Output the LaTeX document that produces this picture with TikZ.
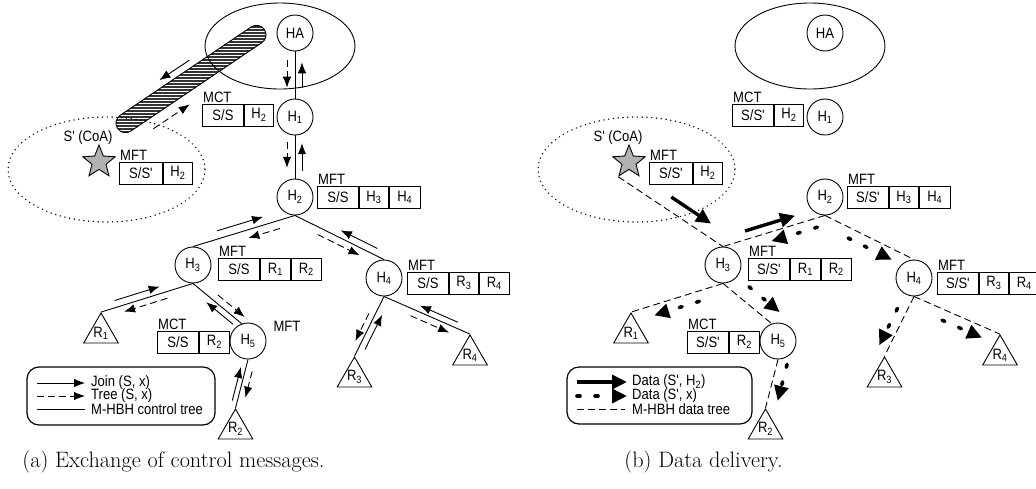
\documentclass[tikz,border=0pt]{standalone}
\usepackage{fontspec}
\newfontfamily\lab[FakeStretch=0.87]{Liberation Sans}
\usetikzlibrary{arrows.meta,calc,shapes.geometric}

\tikzset{
  base/.style={line width=0.9pt},
  txt/.style={font=\lab\fontsize{15}{17}\selectfont},
  circ/.style={circle, draw, base, minimum size=36pt, inner sep=0pt, txt},
  cell/.style={draw, base, minimum height=22pt, inner sep=0pt, anchor=west, txt},
  lbl/.style={inner sep=1pt, txt},
  tri/.style={regular polygon, regular polygon sides=3, draw, base, minimum size=40pt, inner sep=0pt},
  ctrl/.style={base},
  joinarr/.style={base, -{Latex[length=11pt,width=8.5pt]}},
  treearr/.style={joinarr, dash pattern=on 7pt off 4pt},
  dtree/.style={base, dash pattern=on 7pt off 4pt},
  thickarr/.style={line width=3.4pt, -{Triangle[length=15pt,width=14pt]}},
  dotarr/.style={line width=3.6pt, line cap=round, dash pattern=on 3pt off 15pt, -{Triangle[length=15pt,width=14pt]}},
  legbox/.style={draw, line width=1.2pt, rounded corners=12pt},
  captxt/.style={font=\fontsize{22.3}{25}\selectfont},
  capsule/.style={shift={(191,79)}, rotate=34},
}

\newcommand\msg[6]{\draw[#1] ($(#2)!#4!(#3)!#6!90:(#3)$) -- ($(#2)!#5!(#3)!#6!-90:(#2)$);}

\newcommand\mypanel[2]{%
  \draw[base] (280,46) ellipse [x radius=75, y radius=43];
  \draw[base, line cap=round, dash pattern=on 0.2pt off 4.6pt, line width=1.4pt] (106.5,169.5) ellipse [x radius=98.5, y radius=52.5];
  \node[circ] (#1HA) at (295,33) {HA};
  \node[circ] (#1H1) at (295,117) {H\textsubscript{1}};
  \node[circ] (#1H2) at (295,197) {H\textsubscript{2}};
  \node[circ] (#1H3) at (193,265) {H\textsubscript{3}};
  \node[circ] (#1H4) at (384,278) {H\textsubscript{4}};
  \node[circ] (#1H5) at (248,341) {H\textsubscript{5}};
  \node[tri, label={[lbl]center:R\textsubscript{1}}] (#1R1) at (101,333) {};
  \node[tri, label={[lbl]center:R\textsubscript{2}}] (#1R2) at (235.5,429) {};
  \node[tri, label={[lbl]center:R\textsubscript{3}}] (#1R3) at (354.5,377) {};
  \node[tri, label={[lbl]center:R\textsubscript{4}}] (#1R4) at (470,355) {};
  \node[star, star points=5, star point ratio=2.3, draw, base, fill=gray!60, minimum size=34pt, inner sep=0pt] (#1S) at (99,162) {};
  \node[lbl] (#1coa) at (88,138) {S' (CoA)};
  % MCT at H1
  \node[cell, minimum width=41pt] (#1t1a) at (202,115) {#2};
  \node[cell, minimum width=29pt] (#1t1b) at (#1t1a.east) {H\textsubscript{2}};
  \node[lbl, anchor=south west] (#1t1l) at (#1t1a.north west) {MCT};
  % MFT at S'
  \node[cell, minimum width=43pt] (#1t2a) at (119,173) {S/S'};
  \node[cell, minimum width=29pt] (#1t2b) at (#1t2a.east) {H\textsubscript{2}};
  \node[lbl, anchor=south west] (#1t2l) at (#1t2a.north west) {MFT};
  % MFT at H2
  \node[cell, minimum width=41pt] (#1t3a) at (317,197.5) {#2};
  \node[cell, minimum width=29pt] (#1t3b) at (#1t3a.east) {H\textsubscript{3}};
  \node[cell, minimum width=31pt] (#1t3c) at (#1t3b.east) {H\textsubscript{4}};
  \node[lbl, anchor=south west] (#1t3l) at (#1t3a.north west) {MFT};
  % MFT at H3
  \node[cell, minimum width=41pt] (#1t4a) at (218,269.5) {#2};
  \node[cell, minimum width=30pt] (#1t4b) at (#1t4a.east) {R\textsubscript{1}};
  \node[cell, minimum width=30pt] (#1t4c) at (#1t4b.east) {R\textsubscript{2}};
  \node[lbl, anchor=south west] (#1t4l) at (#1t4a.north west) {MFT};
  % MFT at H4
  \node[cell, minimum width=41pt] (#1t5a) at (407,283) {#2};
  \node[cell, minimum width=29pt] (#1t5b) at (#1t5a.east) {R\textsubscript{3}};
  \node[cell, minimum width=30pt] (#1t5c) at (#1t5b.east) {R\textsubscript{4}};
  \node[lbl, anchor=south west] (#1t5l) at (#1t5a.north west) {MFT};
  % MCT at H5
  \node[cell, minimum width=41pt] (#1t6a) at (157,342) {#2};
  \node[cell, minimum width=30pt] (#1t6b) at (#1t6a.east) {R\textsubscript{2}};
  \node[lbl, anchor=south west] (#1t6l) at (#1t6a.north west) {MCT};
}

\begin{document}
\begin{tikzpicture}[x=1pt, y=-1pt]
\useasboundingbox (0,0) rectangle (1036,488);
\fill[white] (0,0) rectangle (1036,488);

% ---------------- panel (a): hatched capsule
\begin{scope}[capsule]
  \clip (-79,-9.5) -- (79,-9.5) arc (-90:90:9.5) -- (-79,9.5) arc (90:270:9.5) -- cycle;
  \fill[black!80] (-100,-20) rectangle (100,20);
  \begin{scope}[rotate=-34]
    \foreach \yy in {-60,-57,...,62} \draw[white, line width=0.9pt] (-110,\yy) -- (110,\yy);
  \end{scope}
\end{scope}
\draw[base, capsule] (-79,-9.5) -- (79,-9.5) arc (-90:90:9.5) -- (-79,9.5) arc (90:270:9.5) -- cycle;
\coordinate (capA) at (126,123);
\coordinate (capB) at (256,36);

\mypanel{a}{S/S}
\node[lbl] (aH5l) at (287,326) {MFT};

\draw[ctrl] (aHA) -- (aH1);
\draw[ctrl] (aH1) -- (aH2);
\draw[ctrl] (aH2.south) -- (aH3.north);
\draw[ctrl] (aH2.south) -- (aH4.north);
\draw[ctrl] (aH3.south) -- (aR1.corner 1);
\draw[ctrl] (aH3.south) -- (aH5.110);
\draw[ctrl] (aH5.south) -- (aR2.corner 1);
\draw[ctrl] (aH4.south) -- (aR3.corner 1);
\draw[ctrl] (aH4.south) -- (aR4.corner 1);

\msg{treearr}{aHA.south}{aH1.north}{0.19}{0.77}{-8pt}
\msg{joinarr}{aHA.south}{aH1.north}{0.77}{0.23}{7pt}
\msg{treearr}{aH1.south}{aH2.north}{0.16}{0.75}{-8pt}
\msg{joinarr}{aH1.south}{aH2.north}{0.82}{0.18}{7pt}
\msg{joinarr}{aH2.south}{aH3.north}{0.74}{0.29}{-8pt}
\msg{treearr}{aH2.south}{aH3.north}{0.17}{0.48}{8pt}
\msg{joinarr}{aH2.south}{aH4.north}{0.89}{0.48}{7pt}
\msg{treearr}{aH2.south}{aH4.north}{0.29}{0.76}{-7pt}
\msg{joinarr}{aH3.south}{aR1.corner 1}{0.83}{0.34}{-7pt}
\msg{treearr}{aH3.south}{aR1.corner 1}{0.30}{0.77}{6.5pt}
\msg{joinarr}{aH3.south}{aH5.110}{0.9}{0.35}{-6pt}
\msg{treearr}{aH3.south}{aH5.110}{0.42}{0.97}{7pt}
\msg{joinarr}{aH5.south}{aR2.corner 1}{0.87}{0.18}{-5pt}
\msg{treearr}{aH5.south}{aR2.corner 1}{0.21}{0.75}{7pt}
\msg{treearr}{aH4.south}{aR3.corner 1}{0.33}{0.79}{-6pt}
\msg{joinarr}{aH4.south}{aR3.corner 1}{0.84}{0.26}{6.5pt}
\msg{joinarr}{aH4.south}{aR4.corner 1}{0.83}{0.39}{6pt}
\msg{treearr}{aH4.south}{aR4.corner 1}{0.34}{0.79}{-7pt}
\msg{joinarr}{capA}{capB}{0.56}{0.33}{17pt}
\msg{treearr}{capA}{capB}{0.125}{0.405}{-20pt}

% legend (a)
\node[legbox, minimum width=188pt, minimum height=58pt] (aleg) at (121,396) {};
\coordinate (al1s) at (37,383); \coordinate (al1e) at (85,383);
\coordinate (al2s) at (37,396); \coordinate (al2e) at (85,396);
\coordinate (al3s) at (37,409); \coordinate (al3e) at (85,409);
\draw[joinarr] (al1s) -- (al1e);
\draw[treearr] (al2s) -- (al2e);
\draw[ctrl] (al3s) -- (al3e);
\node[lbl, anchor=west] (al1t) at (90,383) {Join (S, x)};
\node[lbl, anchor=west] (al2t) at (90,396) {Tree (S, x)};
\node[lbl, anchor=west] (al3t) at (90,409) {M-HBH control tree};

% ---------------- panel (b)
\begin{scope}[xshift=530pt]
\mypanel{b}{S/S'}
\end{scope}

\draw[dtree] (bS.outer point 3) -- (bH3.north);
\draw[dtree] (bH2.south) -- (bH3.north);
\draw[dtree] (bH2.south) -- (bH4.north);
\draw[dtree] (bH3.south) -- (bR1.corner 1);
\draw[dtree] (bH3.south) -- (bH5.110);
\draw[dtree] (bH5.south) -- (bR2.corner 1);
\draw[dtree] (bH4.south) -- (bR3.corner 1);
\draw[dtree] (bH4.south) -- (bR4.corner 1);

\msg{thickarr}{bS.outer point 3}{bH3.north}{0.44}{0.82}{12.5pt}
\msg{thickarr}{bH3.north}{bH2.south}{0.24}{0.73}{8.5pt}
\msg{dotarr}{bH2.south}{bH3.north}{0.1}{0.55}{9pt}
\msg{dotarr}{bH2.south}{bH4.north}{0.31}{0.8}{-10pt}
\msg{dotarr}{bH3.south}{bR1.corner 1}{0.29}{0.78}{10pt}
\msg{dotarr}{bH3.south}{bH5.110}{0.35}{0.98}{14pt}
\msg{dotarr}{bH5.south}{bR2.corner 1}{0.05}{0.8}{10pt}
\msg{dotarr}{bH4.south}{bR3.corner 1}{0.27}{0.89}{-9.5pt}
\msg{dotarr}{bH4.south}{bR4.corner 1}{0.375}{0.84}{-10.5pt}

% legend (b)
\node[legbox, minimum width=185pt, minimum height=57pt] (bleg) at (659.5,395.5) {};
\coordinate (bl1s) at (577,382); \coordinate (bl1e) at (627,382);
\coordinate (bl2s) at (577,396); \coordinate (bl2e) at (627,396);
\coordinate (bl3s) at (577,409); \coordinate (bl3e) at (625,409);
\draw[thickarr] (bl1s) -- (bl1e);
\draw[dotarr] (bl2s) -- (bl2e);
\draw[dtree] (bl3s) -- (bl3e);
\node[lbl, anchor=west] (bl1t) at (631,382) {Data (S', H\textsubscript{2})};
\node[lbl, anchor=west] (bl2t) at (631,396) {Data (S', x)};
\node[lbl, anchor=west] (bl3t) at (631,409) {M-HBH data tree};

% captions
\node[captxt] (capa) at (173.5,462) {(a) Exchange of control messages.};
\node[captxt] (capb) at (703.5,462) {(b) Data delivery.};
\end{tikzpicture}
\end{document}
